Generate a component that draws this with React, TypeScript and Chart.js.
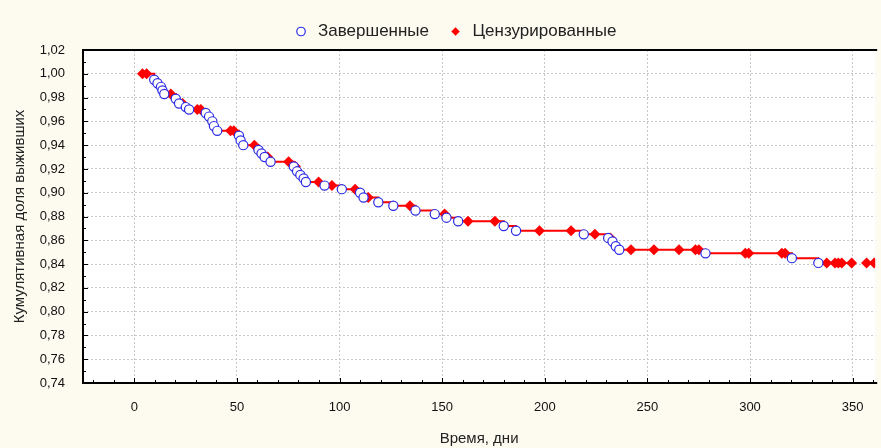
import React, { useEffect, useRef } from "react";
import { Chart, registerables } from "chart.js";

Chart.register(...registerables);

// ---- data ----
const eventTimes = [9.7, 11.3, 13.0, 13.7, 14.6, 20.2, 21.8, 25.1, 26.7, 34.8, 36.4, 38.0, 38.8, 40.4, 51.0, 51.8, 53.1, 60.5, 62.0, 63.5, 66.4, 77.7, 79.3, 80.9, 82.5, 83.6, 92.7, 101.1, 110.0, 111.7, 118.9, 126.2, 137.0, 146.4, 152.1, 157.8, 180.0, 186.0, 219.0, 230.9, 233.0, 234.6, 236.3, 278.3, 320.4, 333.3];
const eventSurvival = [0.995, 0.992, 0.989, 0.986, 0.983, 0.979, 0.975, 0.972, 0.970, 0.967, 0.964, 0.960, 0.956, 0.952, 0.948, 0.944, 0.940, 0.936, 0.933, 0.930, 0.926, 0.922, 0.918, 0.915, 0.912, 0.909, 0.906, 0.903, 0.900, 0.896, 0.892, 0.889, 0.885, 0.882, 0.879, 0.876, 0.872, 0.868, 0.865, 0.862, 0.859, 0.855, 0.852, 0.849, 0.845, 0.841];

const censoredTimes = [4.0, 6.0, 17.8, 23.5, 30.7, 32.4, 46.9, 48.5, 58.5, 65.0, 75.2, 78.5, 89.8, 96.3, 107.6, 114.0, 134.3, 151.2, 162.6, 175.7, 197.4, 212.8, 224.4, 232.0, 242.0, 253.2, 265.4, 273.4, 275.1, 297.7, 299.4, 315.5, 317.1, 337.4, 341.4, 343.0, 344.7, 349.5, 356.8, 360.5];
const censoredSurvival = [1.0, 1.0, 0.983, 0.975, 0.970, 0.970, 0.952, 0.952, 0.940, 0.930, 0.926, 0.922, 0.909, 0.906, 0.903, 0.896, 0.889, 0.882, 0.876, 0.876, 0.868, 0.868, 0.865, 0.862, 0.852, 0.852, 0.852, 0.852, 0.852, 0.849, 0.849, 0.849, 0.849, 0.841, 0.841, 0.841, 0.841, 0.841, 0.841, 0.841];

const lineEndTime = 350;

const xTickValues = [0, 50, 100, 150, 200, 250, 300, 350];
const yTickValues = [0.74, 0.76, 0.78, 0.8, 0.82, 0.84, 0.86, 0.88, 0.9, 0.92, 0.94, 0.96, 0.98, 1.0, 1.02];

const seriesLabels = ["Завершенные", "Цензурированные"];
const xTitle = "Время, дни";
const yTitle = "Кумулятивная доля выживших";

const FONT = "'Liberation Sans', Arial, sans-serif";

const framePlugin = {
  id: "frame",
  beforeDraw(chart: any) {
    const { ctx, chartArea, width, height } = chart;
    ctx.save();
    ctx.fillStyle = "#fdfaf0";
    ctx.fillRect(0, 0, width, height);
    ctx.fillStyle = "#ffffff";
    ctx.fillRect(chartArea.left, chartArea.top, chartArea.right - chartArea.left, chartArea.bottom - chartArea.top);
    ctx.restore();
  },
  afterDatasetsDraw(chart: any) {
    const { ctx, chartArea } = chart;
    const xs = chart.scales.x;
    const ys = chart.scales.y;
    ctx.save();
    ctx.strokeStyle = "#000";
    ctx.lineWidth = 1;
    for (let v = -20; v <= 360; v += 10) {
      const px = Math.round(xs.getPixelForValue(v)) + 0.5;
      if (px < chartArea.left || px > chartArea.right) continue;
      const len = v % 50 === 0 ? 5 : 3;
      ctx.beginPath();
      ctx.moveTo(px, chartArea.bottom);
      ctx.lineTo(px, chartArea.bottom - len);
      ctx.stroke();
    }
    for (let i = 0; i <= 28; i++) {
      const v = 0.74 + i * 0.01;
      const py = Math.round(ys.getPixelForValue(v)) + 0.5;
      const len = i % 2 === 0 ? 5 : 3;
      ctx.beginPath();
      ctx.moveTo(chartArea.left, py);
      ctx.lineTo(chartArea.left + len, py);
      ctx.stroke();
    }
    ctx.lineWidth = 2;
    ctx.beginPath();
    ctx.moveTo(chartArea.right + 2, chartArea.top);
    ctx.lineTo(chartArea.left, chartArea.top);
    ctx.lineTo(chartArea.left, chartArea.bottom);
    ctx.lineTo(chartArea.right + 2, chartArea.bottom);
    ctx.stroke();
    ctx.restore();
  },
};

export default function App() {
  const ref = useRef<HTMLCanvasElement | null>(null);

  useEffect(() => {
    document.body.style.margin = "0";
    document.body.style.overflow = "hidden";
    const canvas = ref.current;
    if (!canvas) return;

    const events = eventTimes.map((t, i) => ({ x: t, y: eventSurvival[i] }));
    const censored = censoredTimes.map((t, i) => ({ x: t, y: censoredSurvival[i] }));
    const linePts = [...events, ...censored]
      .filter((p) => p.x <= lineEndTime)
      .sort((a, b) => a.x - b.x);

    const chart = new Chart(canvas, {
      type: "scatter",
      data: {
        datasets: [
          {
            label: seriesLabels[0],
            data: events,
            pointStyle: "circle",
            pointRadius: 4.6,
            pointBorderWidth: 1.2,
            borderColor: "#2b2be6",
            pointBorderColor: "#2b2be6",
            backgroundColor: "#ffffff",
            pointBackgroundColor: "#ffffff",
            showLine: false,
          },
          {
            label: seriesLabels[1],
            data: censored,
            pointStyle: "rectRot",
            pointRadius: 5.5,
            pointBorderWidth: 0,
            borderColor: "#ff0000",
            pointBorderColor: "#ff0000",
            backgroundColor: "#ff0000",
            pointBackgroundColor: "#ff0000",
            showLine: false,
          },
          {
            label: "",
            data: linePts,
            showLine: true,
            stepped: "before",
            borderColor: "#ff0000",
            borderWidth: 2,
            pointRadius: 0,
            fill: false,
          },
        ],
      },
      options: {
        responsive: false,
        animation: false,
        devicePixelRatio: 1,
        layout: { padding: { top: 5, left: 28, right: 0, bottom: 0 } },
        plugins: {
          legend: {
            display: true,
            position: "top",
            labels: {
              usePointStyle: true,
              boxWidth: 17,
              boxHeight: 6,
              padding: 18,
              color: "#222",
              font: { family: FONT, size: 17 },
              filter: (item: any) => item.text !== "",
            },
          },
          tooltip: { enabled: false },
        },
        scales: {
          x: {
            type: "linear",
            min: -25,
            max: 361,
            afterFit: (s: any) => {
              s.height = 65;
            },
            afterBuildTicks: (s: any) => {
              s.ticks = xTickValues.map((v) => ({ value: v }));
            },
            ticks: {
              padding: 17,
              color: "#111",
              font: { family: FONT, size: 13 },
              maxRotation: 0,
              callback: (v: any) => String(v),
            },
            grid: {
              color: "#c8c8c8",
              lineWidth: 1,
              drawTicks: false,
            },
            border: { display: false, dash: [2, 2] },
            title: {
              display: true,
              text: xTitle,
              color: "#222",
              font: { family: FONT, size: 15 },
              padding: { top: 0, bottom: 0 },
            },
          },
          y: {
            type: "linear",
            min: 0.74,
            max: 1.02,
            afterFit: (s: any) => {
              s.width = 55;
            },
            afterBuildTicks: (s: any) => {
              s.ticks = yTickValues.map((v) => ({ value: v }));
            },
            ticks: {
              padding: 18,
              color: "#111",
              font: { family: FONT, size: 13 },
              callback: (v: any) => Number(v).toFixed(2).replace(".", ","),
            },
            grid: {
              color: "#c8c8c8",
              lineWidth: 1,
              drawTicks: false,
            },
            border: { display: false, dash: [2, 2] },
            title: {
              display: true,
              text: yTitle,
              color: "#222",
              font: { family: FONT, size: 15 },
              padding: { top: -17, bottom: 0 },
            },
          },
        },
      },
      plugins: [framePlugin],
    } as any);

    return () => chart.destroy();
  }, []);

  return (
    <div style={{ width: 881, height: 448, background: "#fdfaf0" }}>
      <canvas ref={ref} width={881} height={448} style={{ display: "block", width: 881, height: 448 }} />
    </div>
  );
}
